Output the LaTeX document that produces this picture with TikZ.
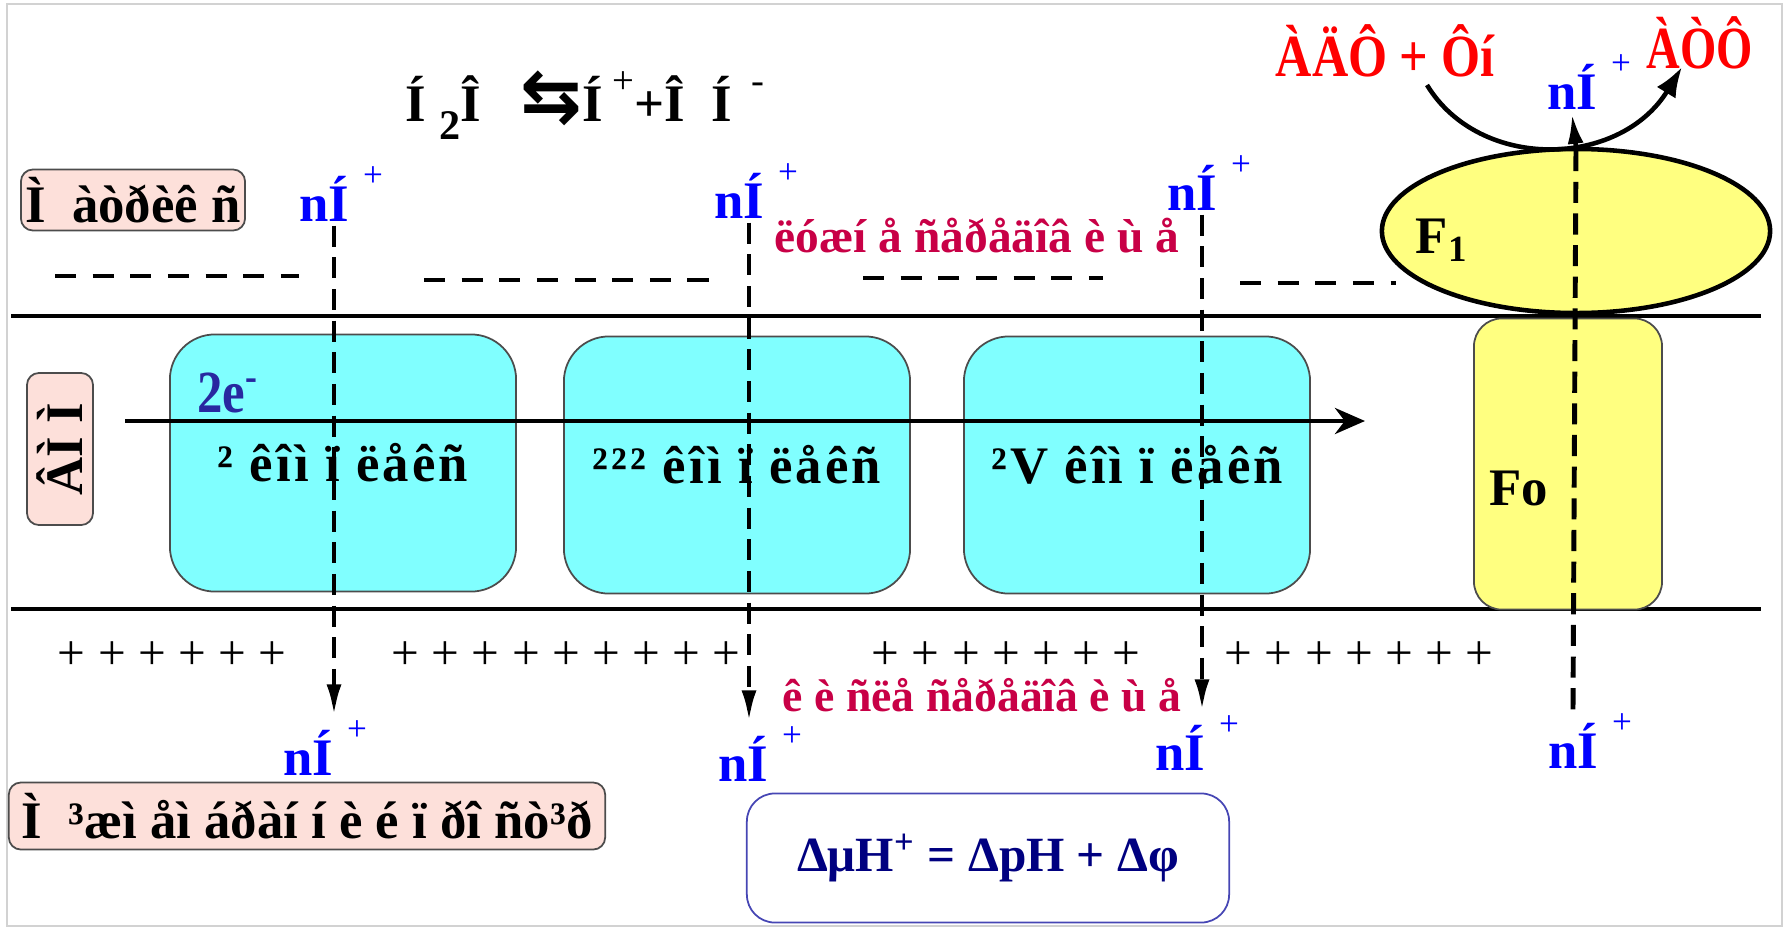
\documentclass[tikz,border=0pt]{standalone}
\usepackage{fontspec}
\setmainfont{Liberation Serif}
\newfontfamily\arrowfont{DejaVu Sans}
\usetikzlibrary{arrows.meta,shapes.geometric}

\definecolor{cplxfill}{RGB}{128,255,255}
\definecolor{atpfill}{RGB}{255,255,128}
\definecolor{tagfill}{RGB}{253,224,218}
\definecolor{hblue}{RGB}{0,0,255}
\definecolor{eblue}{RGB}{40,40,160}
\definecolor{medred}{RGB}{200,0,70}
\definecolor{navy}{RGB}{0,0,128}
\definecolor{eqframe}{RGB}{70,70,180}

\newcommand{\lbl}{\fontsize{15}{17}\selectfont\bfseries}
\newcommand{\Hion}{nÍ\rlap{\hspace{4pt}\raisebox{10pt}{\fontsize{10}{10}\selectfont\mdseries +}}}

\begin{document}
\begin{tikzpicture}[
  x=0.01cm, y=-0.01cm,
  >={Latex[length=3.2mm,width=1.5mm]},
  every node/.style={font=\lbl, inner sep=1pt},
  memb/.style={line width=1pt},
  sdash/.style={line width=1.1pt, dash pattern=on 6pt off 4.7pt},
  cplx/.style={draw=black!70, line width=0.5pt, fill=cplxfill, rounded corners=0.45cm,
    minimum width=3.46cm, minimum height=2.57cm, font=\lbl\addfontfeature{LetterSpace=6}},
  tag/.style={draw=black!70, line width=0.5pt, fill=tagfill, rounded corners=0.12cm},
  hion/.style={text=hblue},
  hflow/.style={->, line width=1.4pt, dash pattern=on 6pt off 3pt},
  eflow/.style={-{Stealth[length=3mm,width=2.6mm]}, line width=1.3pt},
  medium/.style={text=medred, font=\fontsize{13.5}{15}\selectfont\bfseries,
    inner sep=0pt, text height=0.8em, text depth=0.1em},
  plusrow/.style={font=\fontsize{14}{14}\selectfont, inner sep=0pt,
    text height=0.4em, text depth=0pt},
]
  \useasboundingbox (0,0) rectangle (1787,930);
  \draw[gray!35] (7,4) rectangle (1782,926);

  % ---------- membrane ----------
  \draw[sdash] (55,276) -- (299,276);
  \draw[sdash] (424,280) -- (724,280);
  \draw[sdash] (863,278) -- (1103,278);
  \draw[sdash] (1240,283) -- (1396,283);
  \draw[memb] (11,316) -- (1761,316);
  \draw[memb] (11,609) -- (1761,609);

  \node[cplx] (c1) at (343,463) {² êîì ï ëåêñ};
  \node[cplx] (c2) at (737,465) {²²² êîì ï ëåêñ};
  \node[cplx] (c3) at (1137,465) {²V êîì ï ëåêñ};

  % ---------- ATP synthase ----------
  \node[draw=black!70, line width=0.5pt, fill=atpfill, rounded corners=0.28cm,
    minimum width=1.88cm, minimum height=2.91cm] (fo) at (1568,464) {};
  \node[draw, ellipse, line width=1.3pt, fill=atpfill, inner sep=0pt,
    minimum width=3.88cm, minimum height=1.64cm] (f1) at (1576,231) {};
  \node (folbl) at (1519,488) {Fo};
  \node (f1lbl) at (1442,240) {F\textsubscript{1}};

  % ---------- labels ----------
  \node (react) at (585,105) {Í\ \raisebox{-5pt}{\fontsize{12}{12}\selectfont 2}Î\ \ \ {\arrowfont\fontsize{21}{21}\selectfont ⇆}Í\raisebox{8pt}{\fontsize{11}{11}\selectfont\mdseries\ +}+Î\ \ Í\raisebox{8pt}{\fontsize{11}{11}\selectfont\mdseries\enspace -}};
  \node[tag, minimum width=2.24cm, minimum height=0.61cm] (matrix) at (133,200) {Ì\enspace àòðèê ñ};
  \node[tag, rotate=90, minimum width=1.52cm, minimum height=0.66cm] (imm) at (60,449) {ÂÌ Ì};
  \node[tag, minimum width=5.96cm, minimum height=0.67cm] (ims) at (307,816) {Ì\enspace ³æì åì áðàí í è é ï ðî ñò³ð};
  \node[medium] (alk) at (977,240) {ëóæí å ñåðåäîâ è ù å};
  \node[medium, font=\fontsize{13}{15}\selectfont\bfseries] (acid) at (982,699) {ê è ñëå ñåðåäîâ è ù å};
  \node[text=eblue, font=\fontsize{17}{17}\selectfont\bfseries\addfontfeature{FakeStretch=0.85}] (elec) at (228,393) {2e\textsuperscript{-}};
  \node[text=red, font=\fontsize{17}{17}\selectfont\bfseries\addfontfeature{FakeStretch=0.84}] (adp) at (1385,51) {ÀÄÔ + Ôí};
  \node[text=red, font=\fontsize{17}{17}\selectfont\bfseries\addfontfeature{FakeStretch=0.78}] (atp) at (1700,43) {ÀÒÔ};
  \node[draw=eqframe, line width=0.5pt, rounded corners=0.28cm, text=navy,
    font=\fontsize{14}{16}\selectfont\bfseries,
    minimum width=4.82cm, minimum height=1.29cm] (eq) at (988,858) {ΔμH\textsuperscript{+} = ΔpH + Δφ\hspace{6pt}};

  \node[plusrow] (pg1) at (172,662) {+ + + + + +};
  \node[plusrow] (pg2) at (566,662) {+ + + + + + + + +};
  \node[plusrow] (pg3) at (1006,662) {+ + + + + + +};
  \node[plusrow] (pg4) at (1359,662) {+ + + + + + +};

  % protons
  \node[hion] (h1t) at (324,194) {\Hion};
  \node[hion] (h2t) at (739,191) {\Hion};
  \node[hion] (h3t) at (1192,183) {\Hion};
  \node[hion] (h4t) at (1572,82) {\Hion};
  \node[hion] (h1b) at (308,748) {\Hion};
  \node[hion] (h2b) at (743,754) {\Hion};
  \node[hion] (h3b) at (1180,743) {\Hion};
  \node[hion] (h4b) at (1573,741) {\Hion};

  % ---------- flows ----------
  \draw[hflow] ([xshift=1mm]h1t.south) -- ([xshift=1mm]h1t.south |- h1b.north);
  \draw[hflow] ([xshift=1mm]h2t.south) -- ([xshift=1mm]h2t.south |- h2b.north);
  \draw[hflow] ([xshift=1mm]h3t.south) -- ([xshift=1mm]h3t.south |- h3b.north);
  \draw[line width=1.4pt, dash pattern=on 6pt off 3pt] (h4b.north) -- (f1.north);
  \draw[-{Latex[length=3mm,width=1.6mm]}, line width=1.3pt] (f1.north) -- (h4t.south);

  \coordinate (es) at (125,421);
  \coordinate (ee) at (1365,421);
  \draw[eflow] (es) -- (ee);

  \coordinate (cvs) at (1427,85);
  \coordinate (cve) at (1682,67);
  \draw[-{Latex[length=3mm,width=2.2mm]}, line width=1.3pt]
    (cvs) .. controls (1480,172) and (1620,168) .. (cve);
\end{tikzpicture}
\end{document}
